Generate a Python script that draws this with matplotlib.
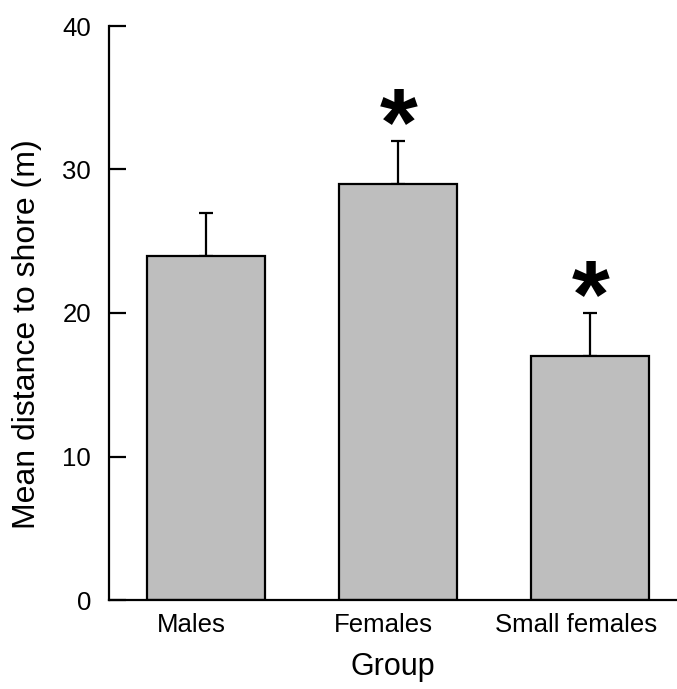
import numpy as np
import matplotlib.pyplot as plt
from matplotlib.transforms import ScaledTranslation

#%%
"""
Mean distance to shore by group, with +1 SE bars and significance stars
"""
groups = ["Males", "Females", "Small females"]
mean_dist = [24, 29, 17]
se_dist = [3, 3, 3]
significant = [False, True, True]

plt.rcParams['font.family'] = ['Liberation Sans', 'DejaVu Sans']

fig = plt.figure(figsize=(6.77, 6.89), dpi=100)
ax = fig.add_axes([109/677, 1 - 600/689, (676 - 109)/677, (600 - 26)/689])

x = np.arange(len(groups))
ax.bar(x, mean_dist, width=0.615, color="#bebebe", edgecolor="black", linewidth=1.6, zorder=2)

# only the upper half of the error bar is drawn
ax.errorbar(x, mean_dist, yerr=[np.zeros(len(x)), se_dist], fmt="none",
            ecolor="black", elinewidth=1.6, capsize=5, capthick=1.6, zorder=1)

for i in range(0, len(groups)):
    if significant[i]:
        ax.annotate("*", xy=(x[i], mean_dist[i] + se_dist[i]), xytext=(1, -10),
                    textcoords="offset points", ha="center", va="baseline",
                    fontsize=70, fontweight="bold")

ax.set_xlim(-0.503, 2.45)
ax.set_ylim(0, 40)
ax.set_yticks([0, 10, 20, 30, 40])
ax.set_xticks(x)
ax.set_xticklabels(groups)

ax.spines['top'].set_visible(False)
ax.spines['right'].set_visible(False)
ax.spines['left'].set_linewidth(1.6)
ax.spines['bottom'].set_linewidth(1.6)
ax.spines['bottom'].set_zorder(3)

ax.tick_params(axis="y", direction="in", length=12.5, width=1.6, pad=13, labelsize=18.5)
ax.tick_params(axis="x", length=0, pad=9, labelsize=18.5)

# group names sit a little left of the bar centres
shift = ScaledTranslation(-0.14, 0, fig.dpi_scale_trans)
for lab in ax.get_xticklabels():
    lab.set_transform(lab.get_transform() + shift)

ax.set_ylabel("Mean distance to shore (m)", fontsize=23)
ax.yaxis.set_label_coords(-0.118, 0.463)
ax.set_xlabel("Group", fontsize=22, labelpad=11)

plt.savefig("out.png", dpi=100)
